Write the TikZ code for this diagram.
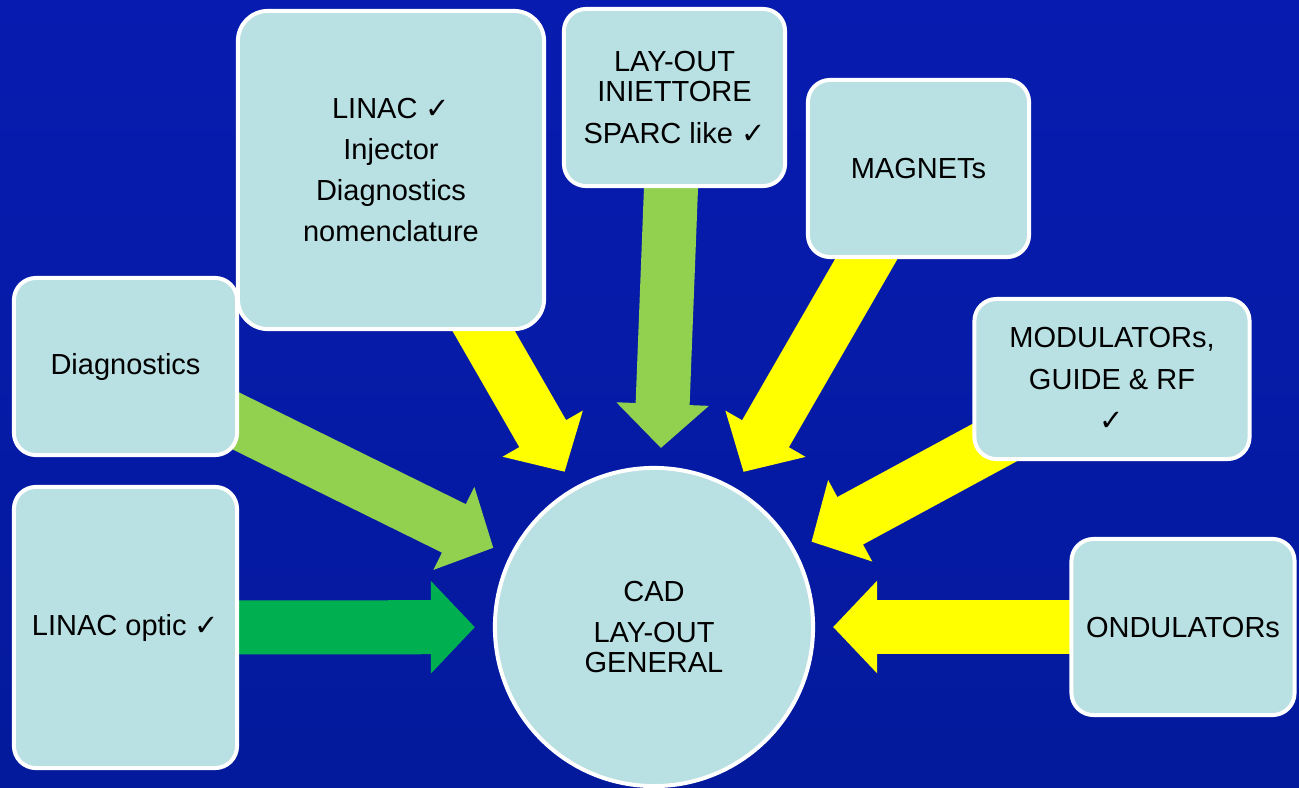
\documentclass[tikz,border=0pt]{standalone}
\usepackage{fontspec}
\setmainfont{Liberation Sans}
\newfontfamily\checkfont{DejaVu Sans}
\newcommand{\okmark}{{\checkfont ✓}}
\usetikzlibrary{arrows.meta}
\usetikzlibrary{backgrounds}
\usetikzlibrary{shapes}
\definecolor{bgtop}{HTML}{071BB0}
\definecolor{bgmid}{HTML}{0727CC}
\definecolor{bgbottom}{HTML}{041A9C}
\definecolor{boxcyan}{HTML}{B9E0E3}
\definecolor{arrowyellow}{HTML}{FFFF00}
\definecolor{arrowlight}{HTML}{92D050}
\definecolor{arrowgreen}{HTML}{00B050}
\tikzset{
        treebox/.style={align=center,inner sep=0pt,text=black,font=\fontsize{8.25pt}{11.7pt}\selectfont},
        % Input boxes
        node_box/.style={treebox, rectangle, rounded corners=0.22cm, draw=white, line width=0.04cm, fill=boxcyan},
        % Central circle
        node_cad/.style={treebox, circle, draw=white, line width=0.04cm, fill=boxcyan, minimum size=3.18cm}
}

\begin{document}
\begin{tikzpicture}[
            x=0.01cm, y=-0.01cm,
            arrow_block/.style={line width=0.54cm, -{Triangle[width=0.9cm,length=0.44cm]}, shorten >=0.18cm},
            arrow_yellow/.style={arrow_block, draw=arrowyellow},
            arrow_light/.style={arrow_block, draw=arrowlight},
            arrow_green/.style={arrow_block, draw=arrowgreen}
        ]
            \useasboundingbox (0,0) rectangle (1299,787);
            \node[node_box, minimum width=3.06cm, minimum height=3.18cm, rounded corners=0.3cm] (linac) at (391,170)
                {LINAC \okmark\\Injector\\Diagnostics\\nomenclature};
            \node[node_box, minimum width=2.21cm, minimum height=1.77cm] (layout) at (674.5,97.5)
                {LAY-OUT\\[-0.11cm]INIETTORE\\SPARC like \okmark};
            \node[node_box, minimum width=2.21cm, minimum height=1.77cm] (magnets) at (918.5,168.5) {MAGNETs};
            \node[node_box, minimum width=2.75cm, minimum height=1.60cm] (modulators) at (1112,379)
                {MODULATORs,\\GUIDE \& RF\\\okmark};
            \node[node_box, minimum width=2.23cm, minimum height=1.76cm] (ondulators) at (1183,627) {ONDULATORs};
            \node[node_box, minimum width=2.23cm, minimum height=1.77cm] (diagnostics) at (125.5,366.5) {Diagnostics};
            \node[node_box, minimum width=2.23cm, minimum height=2.81cm] (linacoptic) at (125.5,627.5) {LINAC optic \okmark};
            \node[node_cad] (cad) at (654,627) {CAD\\LAY-OUT\\[-0.11cm]GENERAL};

            \begin{scope}[on background layer]
                \shade[top color=bgtop, middle color=bgmid, bottom color=bgbottom] (0,0) rectangle (1299,787);
                \draw[arrow_yellow] (linac.center) -- (cad);
                \draw[arrow_light] (layout.center) -- (cad);
                \draw[arrow_yellow] (magnets.center) -- (cad);
                \draw[arrow_yellow] (modulators.center) -- (cad);
                \draw[arrow_yellow] (ondulators.center) -- (cad);
                \draw[arrow_light] (diagnostics.center) -- (cad);
                \draw[arrow_green] (linacoptic.center) -- (cad);
            \end{scope}
        \end{tikzpicture}
\end{document}
